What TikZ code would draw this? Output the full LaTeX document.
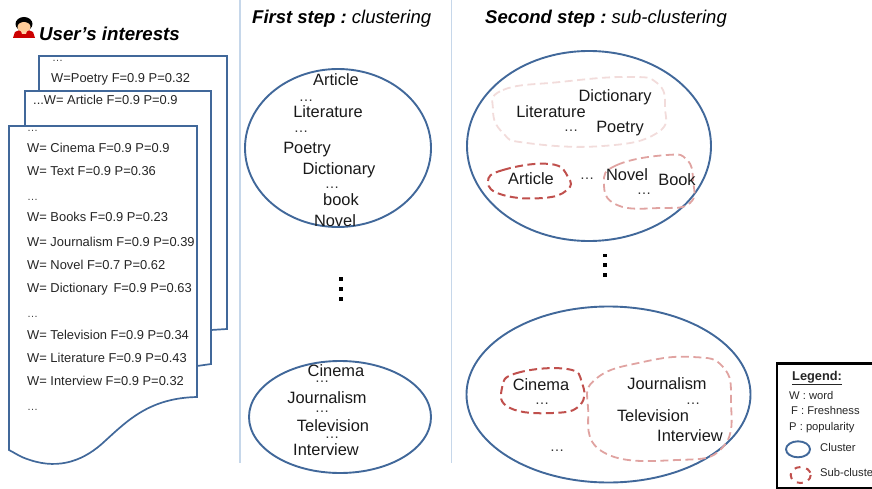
\documentclass[tikz,border=0pt]{standalone}
\usepackage{fontspec}
\setmainfont{Liberation Sans}
\tikzset{
  sheet/.style={draw=sheetblue,line width=1.7pt,fill=white,line join=miter},
  divider/.style={draw=divblue,line width=1.5pt},
  cluster/.style={draw=sheetblue,line width=1.9pt},
  subdark/.style={draw=subA,line width=2pt,dash pattern=on 8pt off 4.5pt},
  submid/.style={draw=subB,line width=1.8pt,dash pattern=on 8pt off 4.5pt},
  sublight/.style={draw=subC,line width=1.8pt,dash pattern=on 8pt off 4.5pt},
  row/.style={anchor=base west,inner sep=0pt,font=\fontsize{12.9}{14}\selectfont,text=black!85},
  rowdots/.style={anchor=west,inner sep=0pt,font=\fontsize{11}{13}\selectfont,text=black!75},
  word/.style={anchor=base,inner sep=0pt,font=\fontsize{16.4}{18}\selectfont,text=black!90},
  wdots/.style={anchor=center,inner sep=0pt,font=\fontsize{14.5}{16}\selectfont,text=black!80},
  vdot/.style={fill=black,minimum size=3.6pt,inner sep=0pt},
  head/.style={anchor=west,inner sep=0pt,font=\fontsize{18.5}{20}\selectfont},
  leg/.style={anchor=base west,inner sep=0pt,font=\fontsize{11.2}{13}\selectfont,text=black!85},
}
\definecolor{sheetblue}{HTML}{41689A}
\definecolor{divblue}{HTML}{C6D7EA}
\definecolor{subA}{HTML}{C0504D}
\definecolor{subB}{HTML}{E0A3A1}
\definecolor{subC}{HTML}{F2DCDB}
\begin{document}
\begin{tikzpicture}[x=1pt,y=-1pt]
\useasboundingbox (0,0) rectangle (872,489);
\clip (0,0) rectangle (872,489);
% avatar
\fill[red!80!black] (13,38) -- (15,32) .. controls (19,29) and (29,29) .. (33,32) -- (35,38) -- cycle;
\fill[orange!35!white] (20,28) -- (28,28) -- (26,34) -- (22,34) -- cycle;
\fill[black] (24,24) ellipse (8.5 and 7);
\fill[orange!40!white] (24,27) ellipse (6.5 and 5);
\node[head,anchor=base west,font=\fontsize{18.7}{20}\selectfont\bfseries\itshape] (title) at (39,40.7) {User’s interests};
% sheets
\path[sheet] (39,56) -- (227,56) -- (227,329) -- (211,330) -- (39,330) -- cycle;
\node[rowdots] (a0) at (52,60.5) {…};
\node[row] (a1) at (51,82.7) {W=Poetry F=0.9 P=0.32};
\path[sheet] (25,91) -- (211,91) -- (211,364) -- (197,366) -- (25,366) -- cycle;
\node[row] (b1) at (33,105) {...W= Article F=0.9 P=0.9};
\path[sheet] (9,126) -- (197,126) -- (197,397) .. controls (150,398) and (128,420) .. (105,441) .. controls (85,460) and (60,470) .. (30,460) .. controls (20,457) and (15,453) .. (9,450) -- cycle;
\node[rowdots] (c0) at (27,130.5) {…};
\node[row] (c1) at (27,152.7) {W= Cinema F=0.9 P=0.9};
\node[row] (c2) at (27,175.7) {W= Text F=0.9 P=0.36};
\node[rowdots] (c3) at (27,200) {…};
\node[row] (c4) at (27,221.7) {W= Books F=0.9 P=0.23};
\node[row] (c5) at (27,246) {W= Journalism F=0.9 P=0.39};
\node[row] (c6) at (27,269.3) {W= Novel F=0.7 P=0.62};
\node[row] (c7) at (27,292.7) {W= Dictionary\, F=0.9 P=0.63};
\node[rowdots] (c8) at (27,317) {…};
\node[row] (c9) at (27,339) {W= Television F=0.9 P=0.34};
\node[row] (c10) at (27,362.3) {W= Literature F=0.9 P=0.43};
\node[row] (c11) at (27,385.7) {W= Interview F=0.9 P=0.32};
\node[rowdots] (c12) at (27,409.7) {…};
% dividers
\coordinate (d1a) at (240,0); \coordinate (d1b) at (240,463);
\coordinate (d2a) at (451.5,0); \coordinate (d2b) at (451.5,463);
\draw[divider] (d1a) -- (d1b);
\draw[divider] (d2a) -- (d2b);
% headings
\node[head] (h1) at (252,19) {\bfseries\itshape First step :\ \mdseries clustering};
\node[head] (h2) at (485,19) {\bfseries\itshape Second step :\ \mdseries sub-clustering};
% clusters
\draw[cluster] (338,148) ellipse (93 and 79);
\draw[cluster] (340,417) ellipse (91 and 56);
\draw[cluster] (589,146) ellipse (122 and 95);
\draw[cluster] (608.5,394.5) ellipse (142 and 88);
% cluster 1 words
\node[word] (w1) at (336,85.7) {Article};
\node[wdots] (w2) at (306,101) {…};
\node[word] (w3) at (328,117.3) {Literature};
\node[wdots] (w4) at (301,132) {…};
\node[word] (w5) at (307,154) {Poetry};
\node[word] (w6) at (339,175) {Dictionary};
\node[wdots] (w7) at (332,188) {…};
\node[word] (w8) at (341,205.7) {book};
\node[word] (w9) at (335,226.7) {Novel};
% vertical dots
\node[vdot] (v1) at (341,279) {};
\node[vdot] (v2) at (341,289) {};
\node[vdot] (v3) at (341,299) {};
\node[vdot] (v4) at (605,255.5) {};
\node[vdot] (v5) at (605,265) {};
\node[vdot] (v6) at (605,275) {};
% cluster 2 words
\node[word] (x1) at (336,376.7) {Cinema};
\node[wdots] (x2) at (322,382) {…};
\node[word] (x3) at (327,403) {Journalism};
\node[wdots] (x4) at (322,412) {…};
\node[word] (x5) at (333,431) {Television};
\node[wdots] (x6) at (332,438) {…};
\node[word] (x7) at (326,455) {Interview};
% sub-clusters
\draw[sublight] plot[smooth cycle,tension=0.8] coordinates {(493,110) (503,90) (560,82) (627,77) (657,83) (665,107) (657,133) (603,146) (527,143) (503,133)};
\draw[subdark] plot[smooth cycle,tension=0.8] coordinates {(488,182) (503,170) (550,164) (568,177) (567,190) (543,198) (503,195)};
\draw[submid] plot[smooth cycle,tension=0.8] coordinates {(604,183) (617,165) (667,155) (687,160) (693,180) (690,203) (660,208) (617,205)};
\draw[subdark] plot[smooth cycle,tension=0.8] coordinates {(502,388) (517,373) (567,369) (582,383) (580,405) (553,413) (510,408)};
\draw[submid] plot[smooth cycle,tension=0.8] coordinates {(588,407) (597,378) (643,362) (693,357) (723,367) (731,400) (723,447) (677,460) (603,452)};
% cluster 3 words
\node[word] (y1) at (615,102) {Dictionary};
\node[word] (y2) at (551,117.7) {Literature};
\node[wdots] (y3) at (571,131) {…};
\node[word] (y4) at (620,133) {Poetry};
\node[word] (y5) at (531,184.7) {Article};
\node[wdots] (y6) at (587,179) {…};
\node[word] (y7) at (627,181) {Novel};
\node[word] (y8) at (677,185.7) {Book};
\node[wdots] (y9) at (644,194) {…};
% cluster 4 words
\node[word] (z1) at (541,390) {Cinema};
\node[wdots] (z2) at (542,404) {…};
\node[word] (z3) at (667,389) {Journalism};
\node[wdots] (z4) at (693,404) {…};
\node[word] (z5) at (653,421.7) {Television};
\node[word] (z6) at (690,441.7) {Interview};
\node[wdots] (z7) at (557,451) {…};
% legend
\draw[line width=2.4pt,draw=black,fill=white] (777,363.5) rectangle (890,488);
\node[leg,font=\fontsize{12.8}{14}\selectfont\bfseries] (l0) at (792,380) {\underline{Legend:}};
\node[leg] (l1) at (789,399) {W : word};
\node[leg] (l2) at (791,414) {F : Freshness};
\node[leg] (l3) at (789,430) {P : popularity};
\draw[cluster] (798,449.3) ellipse (12 and 8);
\node[leg] (l4) at (820,451.7) {Cluster};
\draw[subdark,dash pattern=on 6pt off 6pt] (800.7,475) ellipse (10 and 8);
\node[leg] (l5) at (820,476.7) {Sub-cluster};
\end{tikzpicture}
\end{document}
